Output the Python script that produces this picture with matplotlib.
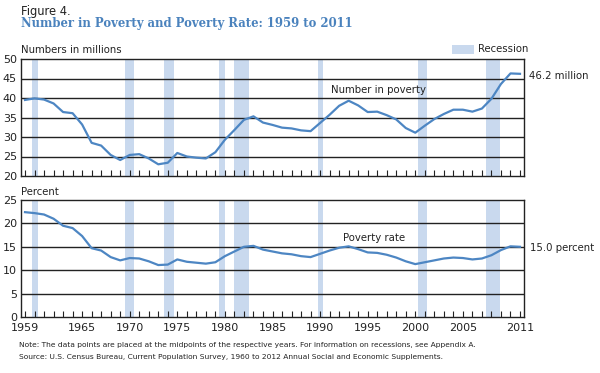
import matplotlib
matplotlib.use("Agg")
import matplotlib.pyplot as plt
import numpy as np

years = list(range(1959, 2012))
number_millions = [39.5, 39.9, 39.6, 38.6, 36.4, 36.1, 33.2, 28.5, 27.8, 25.4,
                   24.1, 25.4, 25.6, 24.5, 23.0, 23.4, 25.9, 25.0, 24.7, 24.5,
                   26.1, 29.3, 31.8, 34.4, 35.3, 33.7, 33.1, 32.4, 32.2, 31.7,
                   31.5, 33.6, 35.7, 38.0, 39.3, 38.1, 36.4, 36.5, 35.6, 34.5,
                   32.3, 31.1, 32.9, 34.6, 35.9, 37.0, 37.0, 36.5, 37.3, 39.8,
                   43.6, 46.3, 46.2]
rate_percent = [22.4, 22.2, 21.9, 21.0, 19.5, 19.0, 17.3, 14.7, 14.2, 12.8,
                12.1, 12.6, 12.5, 11.9, 11.1, 11.2, 12.3, 11.8, 11.6, 11.4,
                11.7, 13.0, 14.0, 15.0, 15.2, 14.4, 14.0, 13.6, 13.4, 13.0,
                12.8, 13.5, 14.2, 14.8, 15.1, 14.5, 13.8, 13.7, 13.3, 12.7,
                11.9, 11.3, 11.7, 12.1, 12.5, 12.7, 12.6, 12.3, 12.5, 13.2,
                14.3, 15.1, 15.0]
recession_start = [1959.75, 1969.5, 1973.63, 1979.4, 1980.95, 1989.8, 2000.25, 2007.4]
recession_end = [1960.4, 1970.48, 1974.68, 1980.0, 1982.56, 1990.33, 2001.2, 2008.9]
xtick_labels = [1959, 1965, 1970, 1975, 1980, 1985, 1990, 1995, 2000, 2005, 2011]

W, H = 600, 373
fig = plt.figure(figsize=(6, 3.73), dpi=100)
plt.rcParams['font.family'] = ['DejaVu Sans']

LINE = '#4d86c3'
BAND = '#c9d9ee'
TITLE = '#4a82bd'
TXT = '#222222'

def ax_rect(l, t, r, b):
    return [l / W, 1 - b / H, (r - l) / W, (b - t) / H]

ax1 = fig.add_axes(ax_rect(21, 59, 524, 176))
ax2 = fig.add_axes(ax_rect(21, 200, 524, 317))

xmin, xmax = 1958.58, 2011.42

for ax, vals, ylim, step in [(ax1, number_millions, (20, 50), 5), (ax2, rate_percent, (0, 25), 5)]:
    for s, e in zip(recession_start, recession_end):
        ax.axvspan(s, e, color=BAND, lw=0, zorder=0)
    for yv in np.arange(ylim[0] + step, ylim[1], step):
        ax.axhline(yv, color=TXT, lw=1.0, zorder=1)
    ax.plot(years, vals, color=LINE, lw=1.6, zorder=3, solid_joinstyle='round')
    ax.set_xlim(xmin, xmax)
    ax.set_ylim(*ylim)
    ax.set_yticks(np.arange(ylim[0], ylim[1] + 1, step))
    ax.tick_params(axis='y', length=0, labelsize=8, pad=3, colors=TXT)
    ax.set_xticks(years, minor=True)
    ax.set_xticks(xtick_labels)
    ax.tick_params(axis='x', which='both', direction='in', length=4, width=0.8, colors=TXT)
    for sp in ax.spines.values():
        sp.set_color(TXT)
        sp.set_linewidth(1.0)

ax1.set_xticklabels([])
ax2.set_xticklabels([str(y) for y in xtick_labels], fontsize=8)
ax2.tick_params(axis='x', labelsize=8, pad=4)

fig.text(21 / W, 1 - 11 / H, "Figure 4.", fontsize=8.3, va='center', ha='left', color=TXT)
fig.text(21 / W, 1 - 23.5 / H, "Number in Poverty and Poverty Rate: 1959 to 2011", fontsize=8.4,
         fontweight='bold', family='DejaVu Serif', va='center', ha='left', color=TITLE)
fig.text(21 / W, 1 - 50 / H, "Numbers in millions", fontsize=7.3, va='center', ha='left', color=TXT)
fig.text(21 / W, 1 - 192 / H, "Percent", fontsize=7.3, va='center', ha='left', color=TXT)

# legend
fig.patches.append(plt.Rectangle((452 / W, 1 - 54 / H), 22 / W, 9 / H, transform=fig.transFigure,
                                 color=BAND, lw=0))
fig.text(478 / W, 1 - 49 / H, "Recession", fontsize=7.3, va='center', ha='left', color=TXT)

ax1.text(1991.1, 42, "Number in poverty", fontsize=7.3, va='center', ha='left', color=TXT)
ax2.text(1992.4, 16.9, "Poverty rate", fontsize=7.3, va='center', ha='left', color=TXT)
fig.text(529 / W, 1 - 76 / H, "46.2 million", fontsize=7.3, va='center', ha='left', color=TXT)
fig.text(530 / W, 1 - 248 / H, "15.0 percent", fontsize=7.3, va='center', ha='left', color=TXT)

fig.text(19 / W, 1 - 345 / H,
         "Note: The data points are placed at the midpoints of the respective years. For information on recessions, see Appendix A.",
         fontsize=5.4, va='center', ha='left', color=TXT)
fig.text(19 / W, 1 - 357 / H,
         "Source: U.S. Census Bureau, Current Population Survey, 1960 to 2012 Annual Social and Economic Supplements.",
         fontsize=5.4, va='center', ha='left', color=TXT)

fig.savefig("out.png", dpi=100)
